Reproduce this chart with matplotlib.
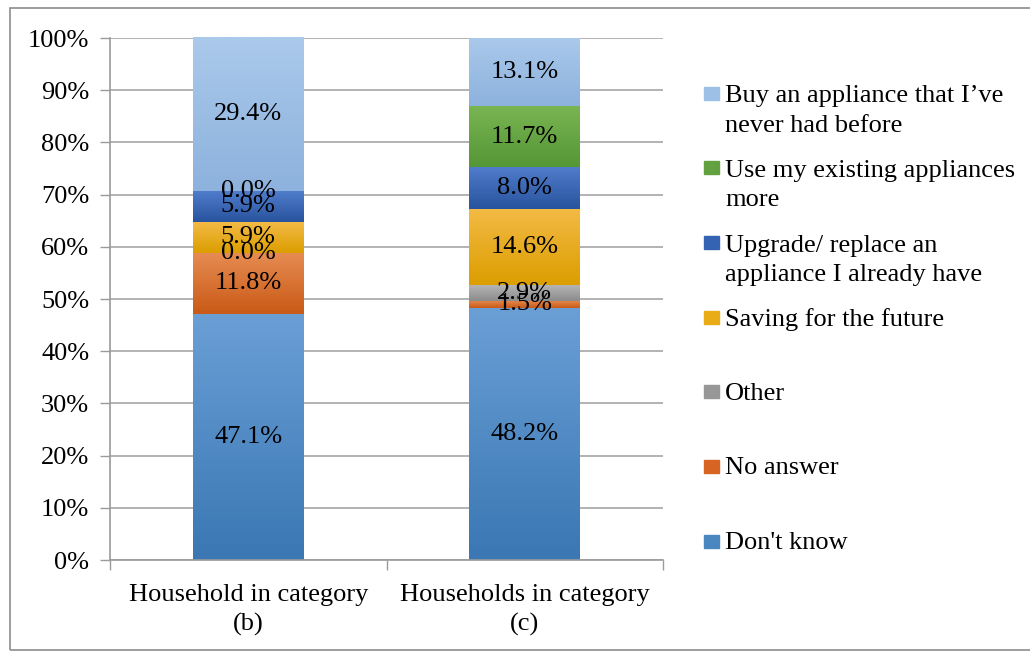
import numpy as np
import matplotlib.pyplot as plt
from matplotlib.colors import LinearSegmentedColormap
from matplotlib.patches import Rectangle
from matplotlib.ticker import FuncFormatter

plt.rcParams['font.family'] = ['Liberation Serif', 'DejaVu Serif']
FS = 19

groups = ['Household in category\n(b)', 'Households in category\n(c)']

# answers, bottom of the stack first
answers = ["Don't know", 'No answer', 'Other', 'Saving for the future',
           'Upgrade/ replace an\nappliance I already have',
           'Use my existing appliances\nmore',
           'Buy an appliance that I’ve\nnever had before']

dont_know = [47.1, 48.2]
no_answer = [11.8, 1.5]
other = [0.0, 2.9]
saving = [5.9, 14.6]
upgrade = [5.9, 8.0]
use_more = [0.0, 11.7]
buy_new = [29.4, 13.1]
series = [dont_know, no_answer, other, saving, upgrade, use_more, buy_new]

# (top, bottom) colours of each segment's vertical gradient
shades = [('#6a9fd6', '#3a77b3'),
          ('#e68c52', '#c95a17'),
          ('#b4b4b4', '#8c8c8c'),
          ('#f3ba45', '#dc9e00'),
          ('#4f7ccb', '#28539e'),
          ('#7ab552', '#559636'),
          ('#aac9eb', '#8db2dd')]
swatch = ['#4a86c0', '#d86424', '#979797', '#e9ab16', '#3463b3', '#62a040', '#9dc0e6']


def gradient_fill(ax, patch, top, bottom):
    h = patch.get_height()
    if h <= 0:
        return
    x0, y0, w = patch.get_x(), patch.get_y(), patch.get_width()
    cmap = LinearSegmentedColormap.from_list('g', [bottom, top])
    grad = np.linspace(0, 1, 64).reshape(-1, 1)
    im = ax.imshow(grad, extent=[x0, x0 + w, y0, y0 + h], origin='lower',
                   cmap=cmap, aspect='auto', interpolation='bilinear',
                   zorder=patch.get_zorder() + 0.1)
    im.set_clip_path(patch)


fig = plt.figure(figsize=(10.3, 6.52), dpi=100)
ax = fig.add_axes([0.1068, 0.1411, 0.5369, 0.8006])

x = np.arange(len(groups))
base = np.zeros(len(groups))
for vals, (top, bottom) in zip(series, shades):
    bars = ax.bar(x, vals, width=0.4, bottom=base, color=bottom,
                  linewidth=0, zorder=2)
    for p in bars:
        gradient_fill(ax, p, top, bottom)
    ax.bar_label(bars, labels=[f'{v:.1f}%' for v in vals], label_type='center',
                 fontsize=FS, color='black', zorder=5)
    base += np.array(vals)

ax.set_xlim(-0.5, 1.5)
ax.set_ylim(0, 100)
ax.set_yticks(np.arange(0, 101, 10))
ax.yaxis.set_major_formatter(FuncFormatter(lambda v, _: f'{v:.0f}%'))
ax.set_xticks(x)
ax.set_xticklabels(groups, fontsize=FS, linespacing=1.42)
ax.set_xticks([-0.5, 0.5, 1.5], minor=True)
ax.tick_params(axis='x', which='major', length=0, pad=17)
ax.tick_params(axis='x', which='minor', length=7, color='#9a9a9a', width=1)
ax.tick_params(axis='y', length=7, color='#9a9a9a', width=1, pad=8, labelsize=FS)
ax.yaxis.grid(True, color='#a6a6a6', linewidth=1.2)
ax.set_axisbelow(True)
for side in ['top', 'right']:
    ax.spines[side].set_visible(False)
for side in ['left', 'bottom']:
    ax.spines[side].set_color('#9a9a9a')
    ax.spines[side].set_linewidth(1.2)

# legend, newest answer on top
fig_w, fig_h = 1030, 652
first_line = 93
step = 74.7
for i, k in enumerate(reversed(range(len(answers)))):
    yc = first_line + i * step
    fig.patches.append(Rectangle((704 / fig_w, 1 - (yc + 6.5) / fig_h), 15 / fig_w, 13 / fig_h,
                                 transform=fig.transFigure, color=swatch[k], figure=fig))
    n = answers[k].count('\n')
    fig.text(725 / fig_w, 1 - (yc + 2 + n * 16) / fig_h, answers[k], fontsize=FS,
             va='center', ha='left', linespacing=1.42)

# outer chart frame
fig.patches.append(Rectangle((10 / fig_w, 2 / fig_h), 1.0, 1 - 10 / fig_h,
                             transform=fig.transFigure, fill=False,
                             edgecolor='#8c8c8c', linewidth=1.2, figure=fig))

fig.savefig('out.png', dpi=100)
